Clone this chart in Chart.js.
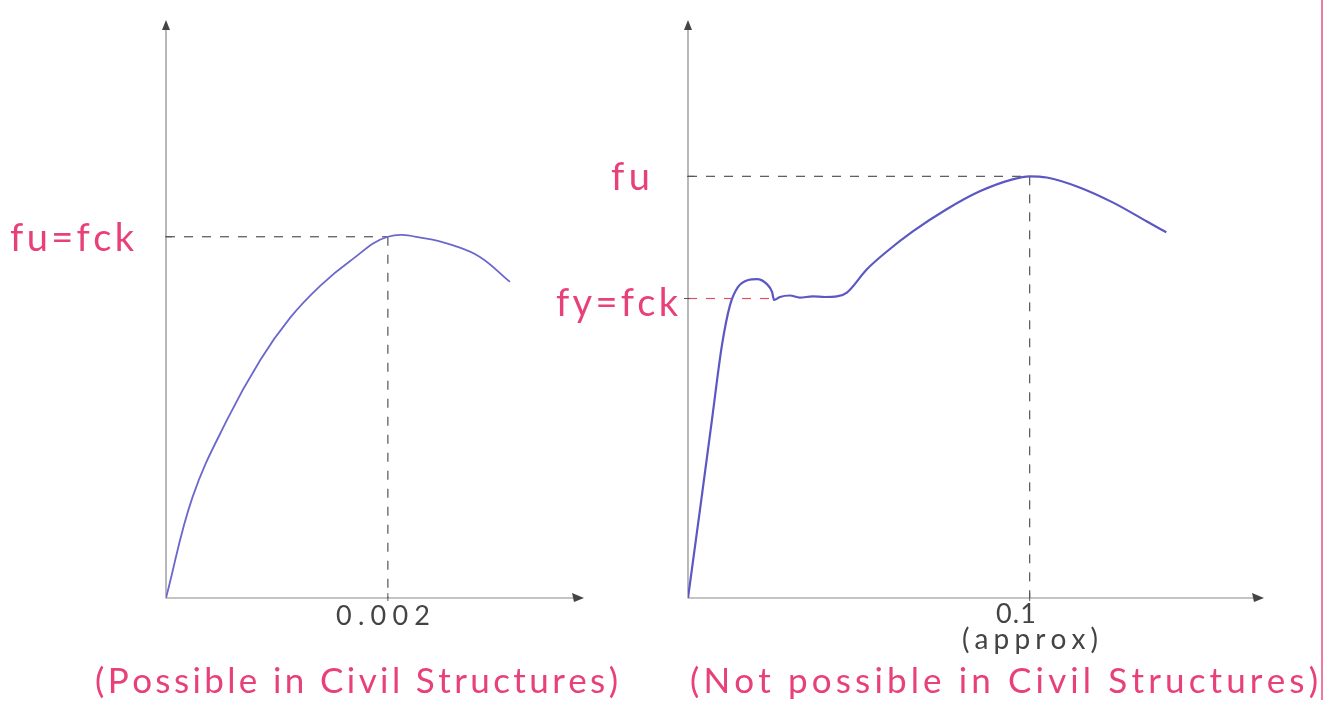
<!doctype html>
<head>
  <meta charset="utf-8" />
  <script src="https://cdn.jsdelivr.net/npm/chart.js@4/dist/chart.umd.min.js"></script>
  <style>
    html, body { margin: 0; background: #fff; }
    canvas { position: absolute; left: 0; top: 0; }
  </style>
</head>
<body>
<canvas id="concrete" width="1333" height="710"></canvas>
<canvas id="steel" width="1333" height="710"></canvas>
<script>
  // concrete: strain vs stress / fck
  const concreteStrain = [0, 0.00024, 0.00055, 0.00085, 0.00112, 0.00139, 0.00166, 0.002, 0.00235, 0.00259, 0.00283, 0.0031];
  const concreteStress = [0, 0.28, 0.493, 0.659, 0.776, 0.864, 0.933, 1.0, 0.995, 0.976, 0.944, 0.875];
  const concretePeak = { strain: 0.002, stress: 1.0 };

  // mild steel: strain vs stress / fy
  const steelStrain = [0, 0.0035, 0.007, 0.00995, 0.0123, 0.0146, 0.0176, 0.0202, 0.0231, 0.0246, 0.0252, 0.0269, 0.0298, 0.0327, 0.0365, 0.04, 0.0436, 0.0465, 0.0523, 0.0582, 0.0658, 0.0757, 0.0854, 0.095, 0.1, 0.105, 0.1146, 0.1243, 0.1342, 0.14];
  const steelStress = [0, 0.294, 0.594, 0.845, 0.978, 1.038, 1.062, 1.065, 1.048, 1.022, 0.995, 1.005, 1.01, 1.003, 1.007, 1.005, 1.007, 1.02, 1.097, 1.157, 1.224, 1.298, 1.358, 1.398, 1.408, 1.404, 1.371, 1.321, 1.258, 1.221];
  const steelUltimate = { strain: 0.1, stress: 1.408 };
  const steelYield = { strain: 0.025, stress: 1.0 };

  const tickLabels = { concrete: ["0.002"], steel: ["0.1", "(approx)"] };
  const captions = ["(Possible in Civil Structures)", "(Not possible in Civil Structures)"];

  const PINK = "#e8407a";
  const INK = "#555";
  const CURVE = "#6b68cc";
  const HAND = "Lato, 'Open Sans', sans-serif";

  const pts = (xs, ys) => xs.map((x, i) => ({ x, y: ys[i] }));

  function dashed(data, color) {
    return { data, borderColor: color, borderWidth: 1.2, borderDash: [9, 9], pointRadius: 0, tension: 0, order: 2 };
  }

  // writes text letter by letter so it spans [x0, x1], loose like handwriting
  function spread(ctx, text, x0, x1, y) {
    const chars = [...text];
    const widths = chars.map(c => ctx.measureText(c).width);
    const total = widths.reduce((s, w) => s + w, 0);
    const gap = chars.length > 1 ? (x1 - x0 - total) / (chars.length - 1) : 0;
    ctx.textAlign = "left";
    let x = x0;
    chars.forEach((c, i) => { ctx.fillText(c, x, y); x += widths[i] + gap; });
  }

  // draws hand-style axes with arrow heads and a few annotations
  function sketchAxes(draw) {
    return {
      id: "sketchAxes",
      beforeDatasetsDraw(chart) {
        const { ctx, chartArea: a } = chart;
        ctx.save();
        ctx.strokeStyle = "#8a8a8a";
        ctx.lineWidth = 1.2;
        ctx.beginPath();
        ctx.moveTo(a.left, a.top + 4);
        ctx.lineTo(a.left, a.bottom);
        ctx.lineTo(a.right - 4, a.bottom);
        ctx.stroke();
        ctx.fillStyle = "#444";
        ctx.beginPath();
        ctx.moveTo(a.left, a.top);
        ctx.lineTo(a.left - 4, a.top + 10);
        ctx.lineTo(a.left + 4, a.top + 10);
        ctx.closePath();
        ctx.fill();
        ctx.beginPath();
        ctx.moveTo(a.right + 2, a.bottom);
        ctx.lineTo(a.right - 10, a.bottom - 5);
        ctx.lineTo(a.right - 8, a.bottom + 4);
        ctx.closePath();
        ctx.fill();
        ctx.restore();
      },
      afterDraw(chart) {
        const { ctx, scales } = chart;
        ctx.save();
        ctx.textBaseline = "middle";
        draw(ctx, scales.x, scales.y, chart.chartArea);
        ctx.restore();
      }
    };
  }

  function baseOptions(xMax, yMax, padding) {
    return {
      responsive: false,
      animation: false,
      devicePixelRatio: 1,
      layout: { padding },
      plugins: { legend: { display: false }, tooltip: { enabled: false } },
      scales: {
        x: { type: "linear", min: 0, max: xMax, display: false },
        y: { type: "linear", min: 0, max: yMax, display: false }
      }
    };
  }

  new Chart(document.getElementById("concrete"), {
    type: "line",
    data: {
      datasets: [
        { data: pts(concreteStrain, concreteStress), borderColor: CURVE, borderWidth: 1.8, pointRadius: 0, tension: 0.4, order: 1 },
        dashed([{ x: 0, y: concretePeak.stress }, { x: concretePeak.strain, y: concretePeak.stress }], INK),
        dashed([{ x: concretePeak.strain, y: concretePeak.stress }, { x: concretePeak.strain, y: 0 }], INK)
      ]
    },
    options: baseOptions(0.00375, 1.6, { left: 166, top: 20, right: 1333 - 582, bottom: 710 - 598 }),
    plugins: [sketchAxes((ctx, x, y, a) => {
      const px = x.getPixelForValue(concretePeak.strain);
      const py = y.getPixelForValue(concretePeak.stress);
      ctx.strokeStyle = "#555";
      ctx.beginPath();
      ctx.moveTo(a.left - 1, py); ctx.lineTo(a.left + 6, py);
      ctx.moveTo(px, a.bottom - 5); ctx.lineTo(px, a.bottom + 3);
      ctx.stroke();
      ctx.fillStyle = "#444";
      ctx.font = `27px ${HAND}`;
      spread(ctx, tickLabels.concrete[0], 336, 430, 616);
      ctx.fillStyle = PINK;
      ctx.font = `38px ${HAND}`;
      spread(ctx, "fu=fck", 10, 134, py + 2);
      ctx.font = `35px ${HAND}`;
      spread(ctx, captions[0], 95, 618, 682);
    })]
  });

  new Chart(document.getElementById("steel"), {
    type: "line",
    data: {
      datasets: [
        { data: pts(steelStrain, steelStress), borderColor: "#5b58c4", borderWidth: 2.2, pointRadius: 0, cubicInterpolationMode: "monotone", order: 1 },
        dashed([{ x: 0, y: steelUltimate.stress }, { x: steelUltimate.strain, y: steelUltimate.stress }], INK),
        dashed([{ x: steelUltimate.strain, y: steelUltimate.stress }, { x: steelUltimate.strain, y: 0 }], INK),
        dashed([{ x: 0, y: steelYield.stress }, { x: steelYield.strain, y: steelYield.stress }], "#e0506a")
      ]
    },
    options: baseOptions(0.168, 1.93, { left: 688, top: 20, right: 1333 - 1262, bottom: 710 - 598 }),
    plugins: [sketchAxes((ctx, x, y, a) => {
      const px = x.getPixelForValue(steelUltimate.strain);
      const pu = y.getPixelForValue(steelUltimate.stress);
      const py = y.getPixelForValue(steelYield.stress);
      ctx.strokeStyle = "#555";
      ctx.beginPath();
      ctx.moveTo(a.left - 1, pu); ctx.lineTo(a.left + 6, pu);
      ctx.moveTo(a.left - 4, py); ctx.lineTo(a.left + 2, py);
      ctx.moveTo(px, a.bottom - 5); ctx.lineTo(px, a.bottom + 3);
      ctx.stroke();
      ctx.fillStyle = "#444";
      ctx.font = `27px ${HAND}`;
      spread(ctx, tickLabels.steel[0], 996, 1036, 614);
      ctx.font = `28px ${HAND}`;
      spread(ctx, tickLabels.steel[1], 962, 1098, 640);
      ctx.fillStyle = PINK;
      ctx.font = `38px ${HAND}`;
      spread(ctx, "fu", 611, 650, pu + 1);
      spread(ctx, "fy=fck", 556, 678, py + 5);
      ctx.font = `35px ${HAND}`;
      spread(ctx, captions[1], 690, 1318, 682);
      // margin rule on the right
      ctx.strokeStyle = "#e8507e";
      ctx.lineWidth = 1.5;
      ctx.beginPath();
      ctx.moveTo(1322, 0); ctx.lineTo(1322, 700);
      ctx.stroke();
    })]
  });
</script>
</body>
